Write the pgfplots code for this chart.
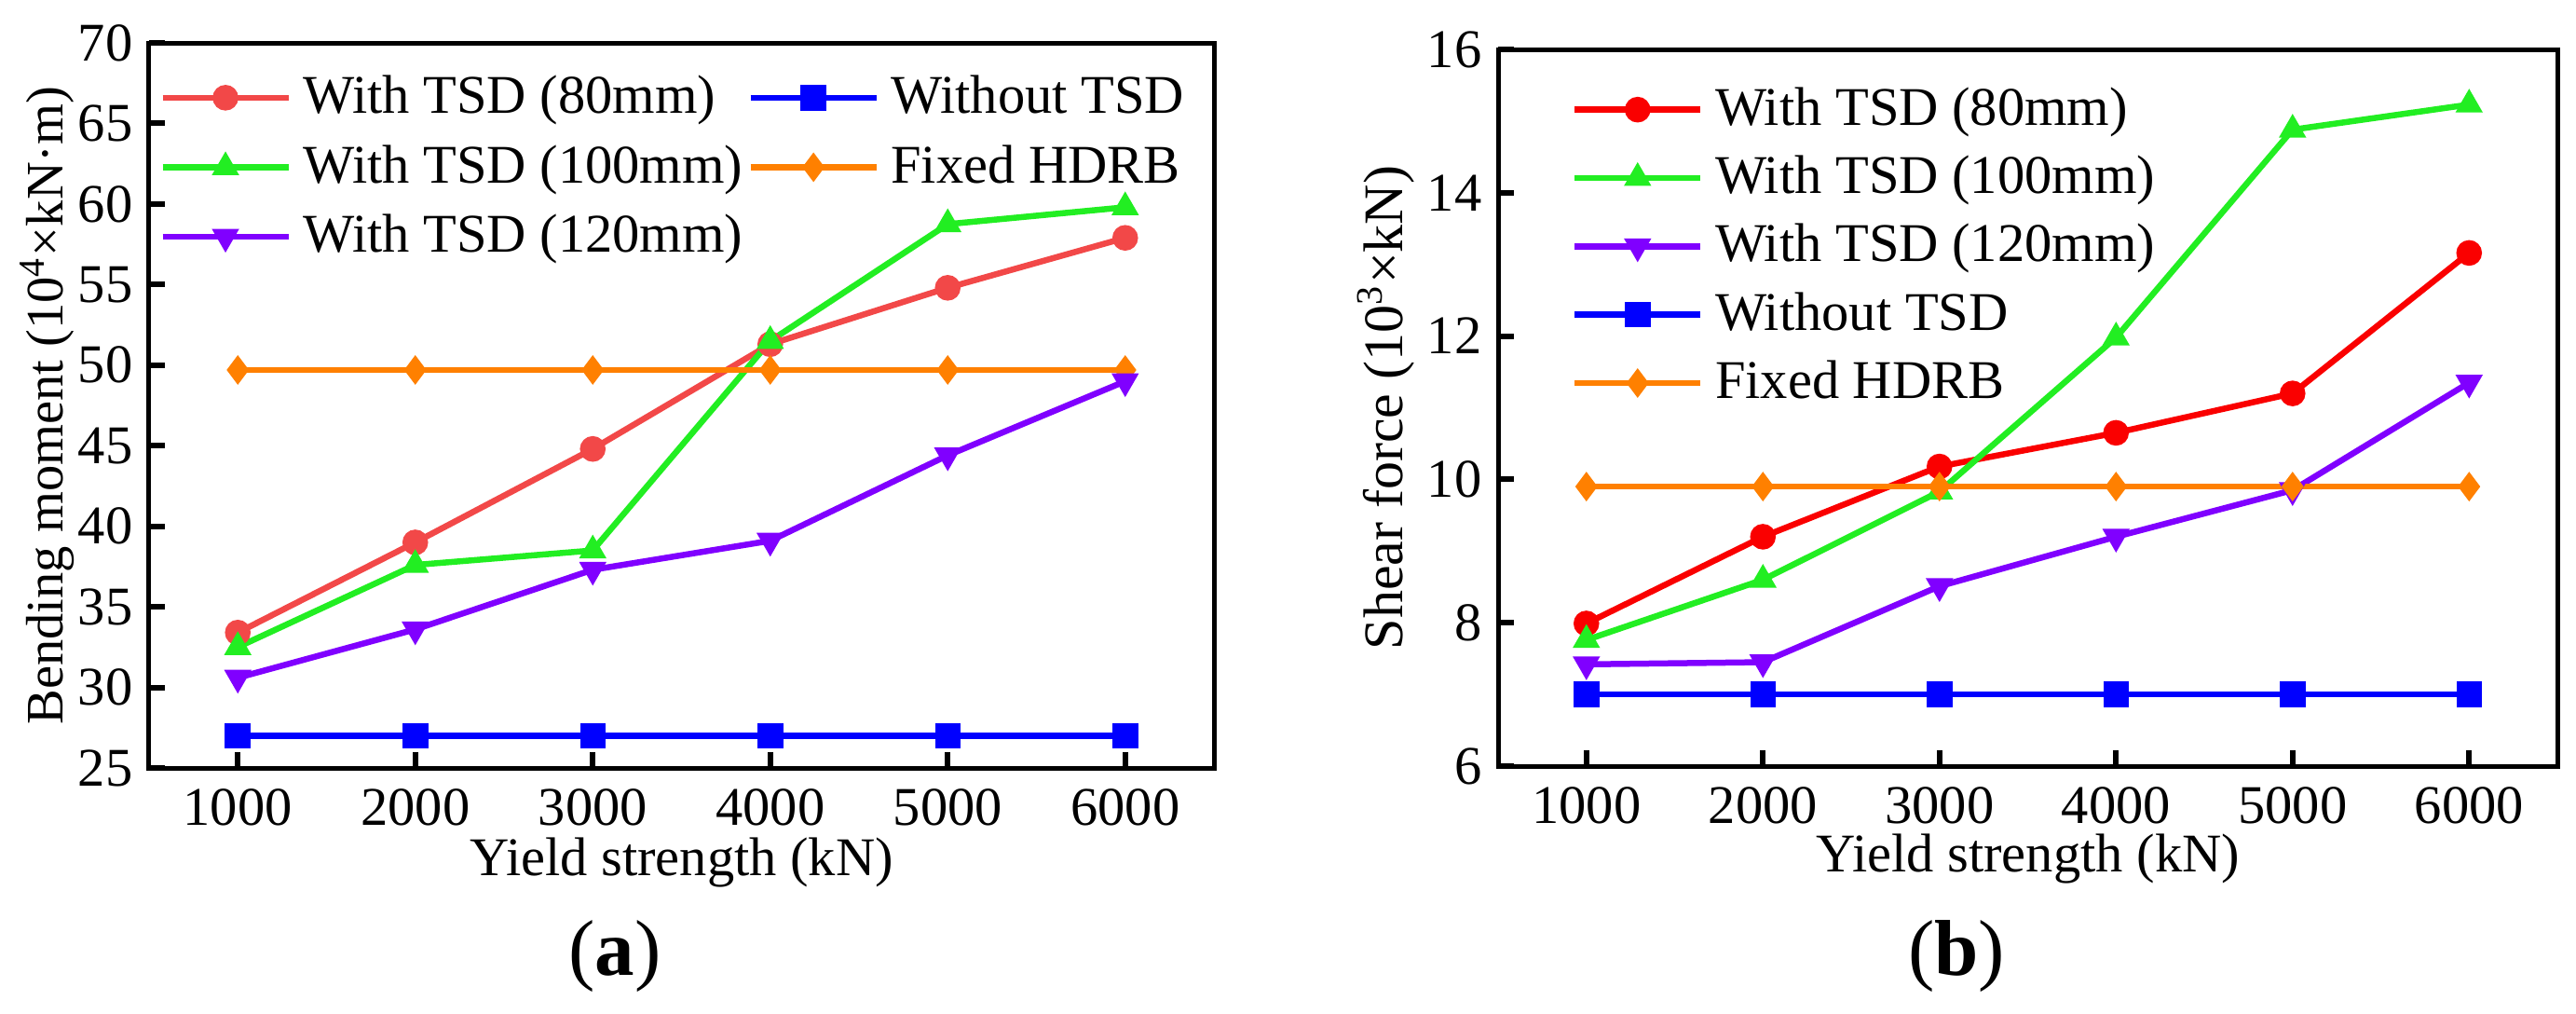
\documentclass[border=0pt]{standalone}
\usepackage{fontspec}
\setmainfont{Liberation Serif}
\usepackage{pgfplots}
\pgfplotsset{compat=1.18}
\definecolor{cRedA}{RGB}{242,72,72}
\definecolor{cRed}{RGB}{250,0,0}
\definecolor{cGreen}{RGB}{34,238,34}
\definecolor{cPurple}{RGB}{128,0,255}
\definecolor{cBlue}{RGB}{0,0,255}
\definecolor{cOrange}{RGB}{255,128,0}
\newcommand{\fs}{\fontsize{11.7}{14}\selectfont}
\pgfplotsset{
 myax/.style={scale only axis, anchor=south west,
  xmin=500, xmax=6500, xtick={1000,2000,...,6000},
  tick align=inside, xtick pos=bottom, ytick pos=left,
  axis line style={line width=1pt},
  major tick style={line width=1.2pt, black}, major tick length=3.4pt,
  tick label style={font=\fs},
  /pgf/number format/assume math mode=true, /pgf/number format/1000 sep={},
  every axis plot/.append style={line width=1.3pt, mark size=2.1pt, mark options={solid}},
  legend image code/.code={\draw[mark repeat=2,mark phase=2] plot coordinates {(0pt,0pt) (13.5pt,0pt) (27pt,0pt)};},
  legend cell align=left,
  xticklabel style={yshift=-1pt},
  xlabel={Yield strength (kN)},
  every axis x label/.style={at={(axis description cs:0.5,-0.13)},anchor=center,font=\fs},
 },
}
\begin{document}
\begin{tikzpicture}
\useasboundingbox (0,0) rectangle (553pt,217.4pt);
% ---------- (a)
\begin{axis}[myax, at={(32pt,52.6pt)}, width=228.6pt, height=155.6pt,
  ymin=25, ymax=70, ytick={25,30,...,70},
  ylabel={Bending moment (10\textsuperscript{4}×kN·m)},
  every axis y label/.style={at={(axis description cs:-0.096,0.5)},rotate=90,anchor=center,font=\fontsize{11.3}{14}\selectfont},
  legend columns=2,
  legend style={draw=none, fill=none, inner sep=0pt, at={(axis description cs:0.009,0.963)}, anchor=north west,
    font=\fs, nodes={inner sep=1pt}, row sep=3.3pt,
    /tikz/every odd column/.append style={column sep=1.5pt}},
]
\addplot[color=cRedA, mark=*] coordinates {(1000,33.4) (2000,39.0) (3000,44.8) (4000,51.3) (5000,54.8) (6000,57.9)};
\addlegendentry{With TSD (80mm)}
\addplot[color=cBlue, mark=square*] coordinates {(1000,27.0) (2000,27.0) (3000,27.0) (4000,27.0) (5000,27.0) (6000,27.0)};
\addlegendentry{Without TSD}
\addplot[color=cGreen, mark=triangle*] coordinates {(1000,32.5) (2000,37.6) (3000,38.5) (4000,51.5) (5000,58.75) (6000,59.8)};
\addlegendentry{With TSD (100mm)}
\addplot[color=cOrange, mark=diamond*] coordinates {(1000,49.7) (2000,49.7) (3000,49.7) (4000,49.7) (5000,49.7) (6000,49.7)};
\addlegendentry{Fixed HDRB}
\addplot[color=cPurple, mark=triangle*, mark options={rotate=180}] coordinates {(1000,30.6) (2000,33.6) (3000,37.3) (4000,39.1) (5000,44.4) (6000,49.0)};
\addlegendentry{With TSD (120mm)}
\end{axis}
% ---------- (b)
\begin{axis}[myax, at={(321.6pt,53pt)}, width=227.4pt, height=153.8pt,
  ymin=6, ymax=16, ytick={6,8,...,16},
  ylabel={Shear force (10\textsuperscript{3}×kN)},
  every axis y label/.style={at={(axis description cs:-0.106,0.5)},rotate=90,anchor=center,font=\fontsize{12}{14}\selectfont},
  legend style={draw=none, fill=none, inner sep=0pt, at={(axis description cs:0.0686,0.955)}, anchor=north west,
    font=\fs, nodes={inner sep=1pt}, row sep=3.05pt,
    /tikz/every odd column/.append style={column sep=1.5pt}},
]
\addplot[color=cRed, mark=*] coordinates {(1000,7.99) (2000,9.2) (3000,10.18) (4000,10.65) (5000,11.2) (6000,13.16)};
\addlegendentry{With TSD (80mm)}
\addplot[color=cGreen, mark=triangle*] coordinates {(1000,7.76) (2000,8.6) (3000,9.83) (4000,11.98) (5000,14.88) (6000,15.23)};
\addlegendentry{With TSD (100mm)}
\addplot[color=cPurple, mark=triangle*, mark options={rotate=180}] coordinates {(1000,7.42) (2000,7.45) (3000,8.51) (4000,9.2) (5000,9.85) (6000,11.35)};
\addlegendentry{With TSD (120mm)}
\addplot[color=cBlue, mark=square*] coordinates {(1000,7.0) (2000,7.0) (3000,7.0) (4000,7.0) (5000,7.0) (6000,7.0)};
\addlegendentry{Without TSD}
\addplot[color=cOrange, mark=diamond*] coordinates {(1000,9.9) (2000,9.9) (3000,9.9) (4000,9.9) (5000,9.9) (6000,9.9)};
\addlegendentry{Fixed HDRB}
\end{axis}
\node[font=\fontsize{17}{20}\selectfont] at (132pt,12.2pt) {(\textbf{a})};
\node[font=\fontsize{17}{20}\selectfont] at (420pt,12.2pt) {(\textbf{b})};
\end{tikzpicture}
\end{document}
